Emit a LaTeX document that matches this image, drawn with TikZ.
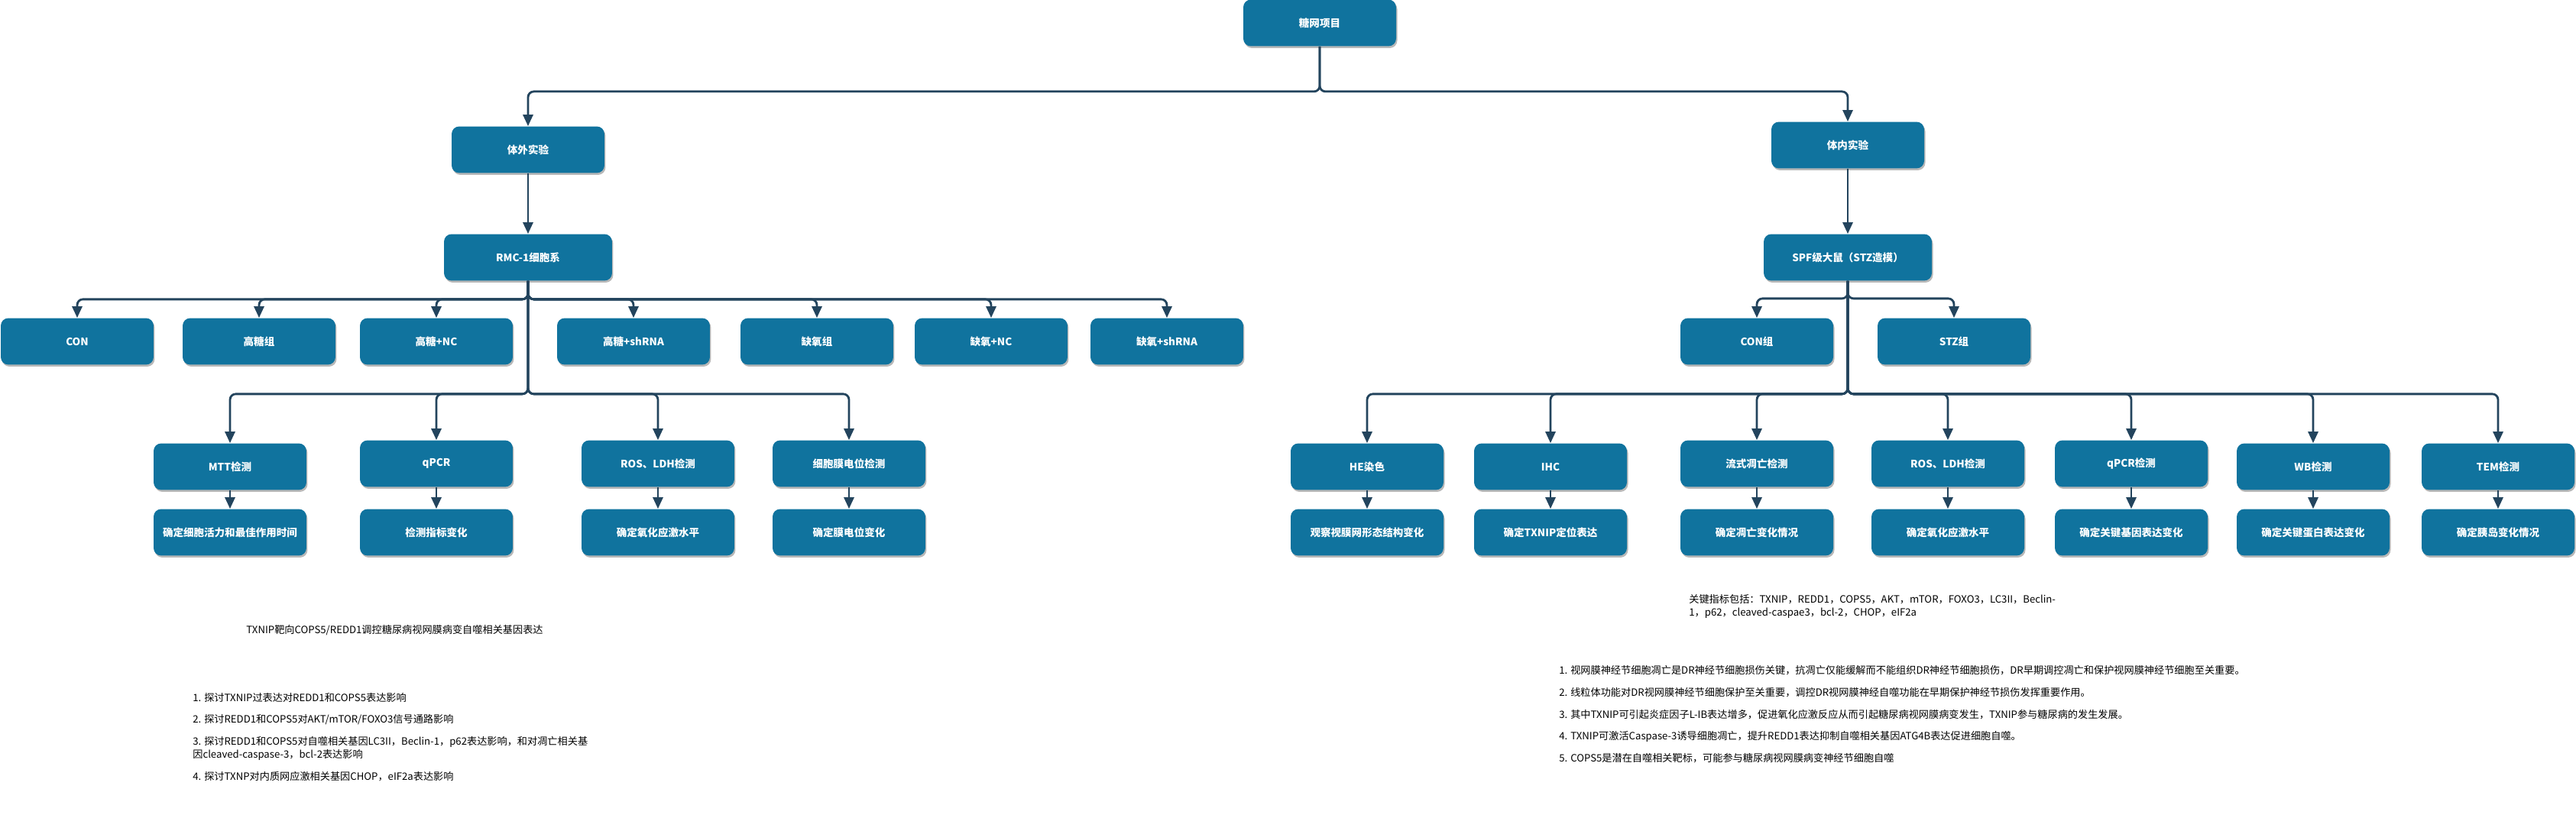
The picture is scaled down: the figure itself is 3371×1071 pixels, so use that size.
\documentclass[tikz,border=0pt]{standalone}
\usepackage{fontspec}
\setmainfont{Noto Sans CJK SC}
\usetikzlibrary{arrows.meta,shadows}
\definecolor{boxblue}{HTML}{10739E}
\definecolor{edgeblue}{HTML}{23445D}

\begin{document}
\begin{tikzpicture}[
       x=0.02cm, y=-0.02cm,
       box/.style={
         rectangle,
         rounded corners=0.2cm,
         fill=boxblue,
         text=white,
         font=\fontsize{7.7}{9}\selectfont\bfseries,
         minimum width=4cm,
         minimum height=1.22cm,
         inner sep=1pt,
         drop shadow={shadow xshift=0.03cm, shadow yshift=-0.05cm, fill=black!28, opacity=1}
       },
       widebox/.style={box, minimum width=4.4cm},
       edge/.style={
         draw=edgeblue,
         line width=1.6pt,
         rounded corners=0.15cm,
         -{Triangle[width=0.26cm,length=0.3cm]}
       },
       note/.style={
         anchor=west,
         align=left,
         inner sep=0pt,
         font=\fontsize{7.5}{9.5}\selectfont
       }
     ]

       \useasboundingbox (0,0) rectangle (3371,1071);

       % top levels
       \node (top) at (1727,30) [box] {糖网项目};
       \node (wai) at (691,196) [box] {体外实验};
       \node (nei) at (2418,190) [box] {体内实验};
       \node (rmc) at (691,337) [widebox] {RMC-1细胞系};
       \node (spf) at (2418,337) [widebox] {SPF级大鼠（STZ造模）};

       % groups
       \node (g1) at (101,447) [box] {CON};
       \node (g2) at (339,447) [box] {高糖组};
       \node (g3) at (571,447) [box] {高糖+NC};
       \node (g4) at (829,447) [box] {高糖+shRNA};
       \node (g5) at (1069,447) [box] {缺氧组};
       \node (g6) at (1297,447) [box] {缺氧+NC};
       \node (g7) at (1527,447) [box] {缺氧+shRNA};
       \node (c1) at (2299,447) [box] {CON组};
       \node (c2) at (2557,447) [box] {STZ组};

       % in vitro tests
       \node (t1) at (301,611) [box] {MTT检测};
       \node (t2) at (571,607) [box] {qPCR};
       \node (t3) at (861,607) [box] {ROS、LDH检测};
       \node (t4) at (1111,607) [box] {细胞膜电位检测};
       \node (r1) at (301,697) [box] {确定细胞活力和最佳作用时间};
       \node (r2) at (571,697) [box] {检测指标变化};
       \node (r3) at (861,697) [box] {确定氧化应激水平};
       \node (r4) at (1111,697) [box] {确定膜电位变化};

       % in vivo tests
       \node (s1) at (1789,611) [box] {HE染色};
       \node (s2) at (2029,611) [box] {IHC};
       \node (s3) at (2299,607) [box] {流式凋亡检测};
       \node (s4) at (2549,607) [box] {ROS、LDH检测};
       \node (s5) at (2789,607) [box] {qPCR检测};
       \node (s6) at (3027,611) [box] {WB检测};
       \node (s7) at (3269,611) [box] {TEM检测};
       \node (e1) at (1789,697) [box] {观察视膜网形态结构变化};
       \node (e2) at (2029,697) [box] {确定TXNIP定位表达};
       \node (e3) at (2299,697) [box] {确定凋亡变化情况};
       \node (e4) at (2549,697) [box] {确定氧化应激水平};
       \node (e5) at (2789,697) [box] {确定关键基因表达变化};
       \node (e6) at (3027,697) [box] {确定关键蛋白表达变化};
       \node (e7) at (3269,697) [box] {确定胰岛变化情况};

       \draw[edge] (top.south) -- ++(0,59) -| (wai.north);
       \draw[edge] (top.south) -- ++(0,59) -| (nei.north);
       \draw[edge] (wai) -- (rmc);
       \draw[edge] (nei) -- (spf);

       \draw[edge] (rmc.south) -- ++(0,24) -| (g1.north);
       \draw[edge] (rmc.south) -- ++(0,24) -| (g2.north);
       \draw[edge] (rmc.south) -- ++(0,24) -| (g3.north);
       \draw[edge] (rmc.south) -- ++(0,24) -| (g4.north);
       \draw[edge] (rmc.south) -- ++(0,24) -| (g5.north);
       \draw[edge] (rmc.south) -- ++(0,24) -| (g6.north);
       \draw[edge] (rmc.south) -- ++(0,24) -| (g7.north);
       \draw[edge] (spf.south) -- ++(0,23) -| (c1.north);
       \draw[edge] (spf.south) -- ++(0,23) -| (c2.north);

       \draw[edge] (rmc.south) -- ++(0,148) -| (t1.north);
       \draw[edge] (rmc.south) -- ++(0,148) -| (t2.north);
       \draw[edge] (rmc.south) -- ++(0,148) -| (t3.north);
       \draw[edge] (rmc.south) -- ++(0,148) -| (t4.north);
       \draw[edge] (t1) -- (r1);
       \draw[edge] (t2) -- (r2);
       \draw[edge] (t3) -- (r3);
       \draw[edge] (t4) -- (r4);

       \draw[edge] (spf.south) -- ++(0,148) -| (s1.north);
       \draw[edge] (spf.south) -- ++(0,148) -| (s2.north);
       \draw[edge] (spf.south) -- ++(0,148) -| (s3.north);
       \draw[edge] (spf.south) -- ++(0,148) -| (s4.north);
       \draw[edge] (spf.south) -- ++(0,148) -| (s5.north);
       \draw[edge] (spf.south) -- ++(0,148) -| (s6.north);
       \draw[edge] (spf.south) -- ++(0,148) -| (s7.north);
       \draw[edge] (s1) -- (e1);
       \draw[edge] (s2) -- (e2);
       \draw[edge] (s3) -- (e3);
       \draw[edge] (s4) -- (e4);
       \draw[edge] (s5) -- (e5);
       \draw[edge] (s6) -- (e6);
       \draw[edge] (s7) -- (e7);

       % notes
       \node (n0) at (322,825) [note] {TXNIP靶向COPS5/REDD1调控糖尿病视网膜病变自噬相关基因表达};
       \node (n1) at (252,913) [note] {1. 探讨TXNIP过表达对REDD1和COPS5表达影响};
       \node (n2) at (252,942) [note] {2. 探讨REDD1和COPS5对AKT/mTOR/FOXO3信号通路影响};
       \node (n3) at (252,980) [note] {3. 探讨REDD1和COPS5对自噬相关基因LC3II，Beclin-1，p62表达影响，和对凋亡相关基\\因cleaved-caspase-3，bcl-2表达影响};
       \node (n4) at (252,1017) [note] {4. 探讨TXNP对内质网应激相关基因CHOP，eIF2a表达影响};

       \node (k0) at (2210,794) [note] {关键指标包括：TXNIP，REDD1，COPS5，AKT，mTOR，FOXO3，LC3II，Beclin-\\1，p62，cleaved-caspae3，bcl-2，CHOP，eIF2a};
       \node (k1) at (2040,878) [note] {1. 视网膜神经节细胞凋亡是DR神经节细胞损伤关键，抗凋亡仅能缓解而不能组织DR神经节细胞损伤，DR早期调控凋亡和保护视网膜神经节细胞至关重要。};
       \node (k2) at (2040,907) [note] {2. 线粒体功能对DR视网膜神经节细胞保护至关重要，调控DR视网膜神经自噬功能在早期保护神经节损伤发挥重要作用。};
       \node (k3) at (2040,936) [note] {3. 其中TXNIP可引起炎症因子L-IB表达增多，促进氧化应激反应从而引起糖尿病视网膜病变发生，TXNIP参与糖尿病的发生发展。};
       \node (k4) at (2040,964) [note] {4. TXNIP可激活Caspase-3诱导细胞凋亡，提升REDD1表达抑制自噬相关基因ATG4B表达促进细胞自噬。};
       \node (k5) at (2040,993) [note] {5. COPS5是潜在自噬相关靶标，可能参与糖尿病视网膜病变神经节细胞自噬};

\end{tikzpicture}
\end{document}
